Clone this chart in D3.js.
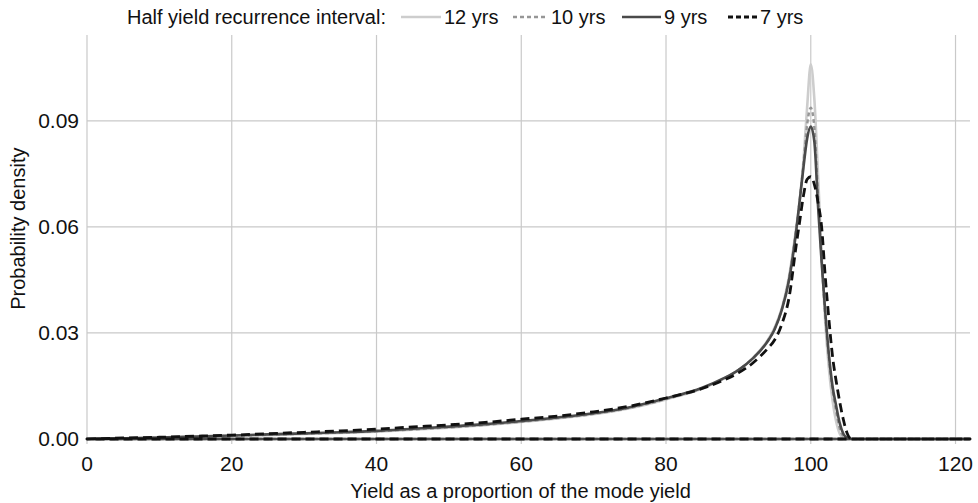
<!DOCTYPE html>
<html>
<head>
<meta charset="utf-8">
<script src="https://cdn.jsdelivr.net/npm/d3@7"></script>
<style>
  body { margin: 0; background: #fff; }
  svg text { font-family: "Liberation Sans", Arial, Helvetica, sans-serif; fill: #111; }
</style>
</head>
<body>
<div id="chart"></div>
<script>
"use strict"

// yield (% of mode yield)
const yieldPts = [0, 5, 10, 15, 20, 25, 30, 35, 40, 45, 50, 55, 60, 65, 70, 75, 80, 85, 88, 90, 92, 94, 95, 96, 97, 98, 98.5, 99, 99.5, 100, 100.5, 101, 101.5, 102, 102.5, 103, 103.5, 104, 104.5, 105, 105.5, 106, 110, 122];

const dens12 = [0, 0.0001, 0.0003, 0.0005, 0.0008, 0.0011, 0.0014, 0.0017, 0.0021, 0.0026, 0.0032, 0.0039, 0.0048, 0.0058, 0.0070, 0.0087, 0.0112, 0.0143, 0.0171, 0.0195, 0.0229, 0.0278, 0.0315, 0.037, 0.046, 0.060, 0.068, 0.079, 0.094, 0.106, 0.096, 0.075, 0.052, 0.033, 0.020, 0.011, 0.005, 0.0015, 0.0003, 0, 0, 0, 0, 0];
const dens10 = [0, 0.00015, 0.00035, 0.0006, 0.0009, 0.0012, 0.0015, 0.0018, 0.0022, 0.0027, 0.0033, 0.0040, 0.0049, 0.0059, 0.0071, 0.0088, 0.0113, 0.0144, 0.0171, 0.0195, 0.0228, 0.0276, 0.0312, 0.0367, 0.0455, 0.0595, 0.068, 0.078, 0.089, 0.0937, 0.088, 0.069, 0.051, 0.035, 0.023, 0.014, 0.008, 0.003, 0.0008, 0.0001, 0, 0, 0, 0];
const dens9 = [0, 0.0002, 0.0004, 0.0007, 0.0010, 0.0013, 0.0016, 0.0019, 0.0023, 0.0029, 0.0035, 0.0042, 0.0051, 0.0061, 0.0073, 0.0090, 0.0115, 0.0145, 0.0172, 0.0195, 0.0228, 0.0275, 0.031, 0.0365, 0.045, 0.059, 0.068, 0.077, 0.085, 0.0884, 0.084, 0.066, 0.050, 0.036, 0.024, 0.015, 0.0095, 0.0045, 0.0015, 0.0003, 0, 0, 0, 0];
const dens7 = [0, 0.0003, 0.0005, 0.0008, 0.0011, 0.0015, 0.0019, 0.0023, 0.0028, 0.0034, 0.0040, 0.0047, 0.0056, 0.0065, 0.0077, 0.0093, 0.0116, 0.0143, 0.0167, 0.0187, 0.0215, 0.0255, 0.028, 0.0325, 0.040, 0.055, 0.062, 0.069, 0.0735, 0.0742, 0.072, 0.067, 0.060, 0.046, 0.034, 0.0235, 0.0165, 0.0105, 0.0055, 0.0018, 0.0002, 0, 0, 0];

const seriesNames = ["12 yrs", "10 yrs", "9 yrs", "7 yrs"];
const xTicks = [0, 20, 40, 60, 80, 100, 120];
const yTicks = [0, 0.03, 0.06, 0.09];

const styles = {
    "12 yrs": { color: "#cdcdcd", dash: null, width: 2.6 },
    "10 yrs": { color: "#969696", dash: "4,3", width: 2.4 },
    "9 yrs": { color: "#4a4a4a", dash: null, width: 2.6 },
    "7 yrs": { color: "#111111", dash: "9,5", width: 2.8 }
};

const allDens = { "12 yrs": dens12, "10 yrs": dens10, "9 yrs": dens9, "7 yrs": dens7 };

var width = 978, height = 503;
var margin = { top: 35, right: 8, bottom: 64, left: 87 };
var fs = "20px";

var svg = d3.select("#chart").append("svg")
    .attr("width", width)
    .attr("height", height);

var x = d3.scaleLinear().domain([0, 122]).range([margin.left, width - margin.right]);
var y = d3.scaleLinear().domain([0, 0.1143]).range([height - margin.bottom, margin.top]);

// grid
svg.append("g")
    .selectAll("line")
    .data(xTicks)
    .enter().append("line")
    .attr("x1", d => x(d)).attr("x2", d => x(d))
    .attr("y1", margin.top).attr("y2", y(0) + 5)
    .attr("stroke", "#c9c9c9").attr("stroke-width", 1.2);

svg.append("g")
    .selectAll("line")
    .data(yTicks.filter(d => d > 0))
    .enter().append("line")
    .attr("x1", x(0)).attr("x2", x(122))
    .attr("y1", d => y(d)).attr("y2", d => y(d))
    .attr("stroke", "#c9c9c9").attr("stroke-width", 1.2);

// tick labels
svg.append("g")
    .selectAll("text")
    .data(xTicks)
    .enter().append("text")
    .attr("x", d => x(d)).attr("y", y(0) + 32)
    .attr("text-anchor", "middle")
    .style("font-size", "21px")
    .text(d => d);

svg.append("g")
    .selectAll("text")
    .data(yTicks)
    .enter().append("text")
    .attr("x", x(0) - 8).attr("y", d => y(d) + 7)
    .attr("text-anchor", "end")
    .style("font-size", "21px")
    .text(d3.format(".2f"));

// axis titles
svg.append("text")
    .attr("x", (x(0) + x(122)) / 2 - 8).attr("y", 498)
    .attr("text-anchor", "middle")
    .style("font-size", fs)
    .text("Yield as a proportion of the mode yield");

svg.append("text")
    .attr("transform", "translate(25," + y(0.0595) + ") rotate(-90)")
    .attr("text-anchor", "middle")
    .style("font-size", fs)
    .text("Probability density");

// curves drawn as outlined areas (curve out, baseline back)
var area = d3.area()
    .x(d => x(d[0]))
    .y0(y(0))
    .y1(d => y(d[1]))
    .curve(d3.curveMonotoneX);

seriesNames.forEach(name => {
    let pts = yieldPts.map((v, i) => [v, allDens[name][i]]);
    let st = styles[name];
    svg.append("path")
        .datum(pts)
        .attr("d", area)
        .attr("fill", "none")
        .attr("stroke", st.color)
        .attr("stroke-width", st.width)
        .attr("stroke-dasharray", st.dash)
        .attr("stroke-linejoin", "round");
});

// legend
var legend = svg.append("g");
legend.append("text")
    .attr("x", 127).attr("y", 24)
    .style("font-size", fs)
    .text("Half yield recurrence interval:");

var legendPos = { "12 yrs": [401, 441], "10 yrs": [513, 548], "9 yrs": [622, 661], "7 yrs": [728, 757] };
seriesNames.forEach(name => {
    let st = styles[name];
    let p = legendPos[name];
    legend.append("line")
        .attr("x1", p[0]).attr("x2", p[1])
        .attr("y1", 17).attr("y2", 17)
        .attr("stroke", st.color)
        .attr("stroke-width", st.width)
        .attr("stroke-dasharray", name == "7 yrs" ? "5,3" : st.dash);
    legend.append("text")
        .attr("x", p[1] + 3).attr("y", 24)
        .style("font-size", fs)
        .text(name);
});
</script>
</body>
</html>
